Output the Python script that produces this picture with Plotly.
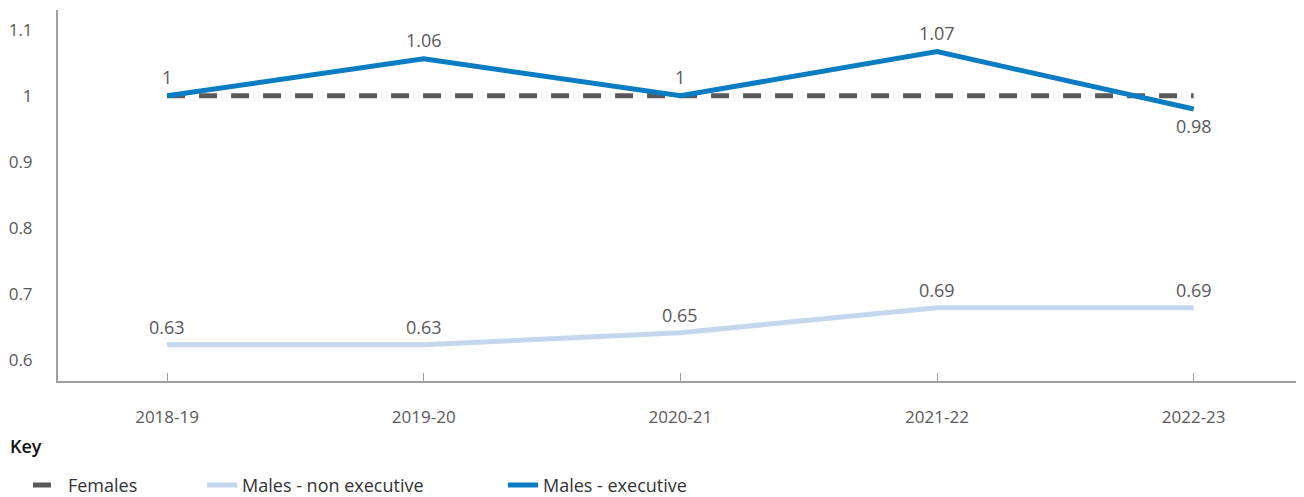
import plotly.graph_objects as go

years = ["2018-19", "2019-20", "2020-21", "2021-22", "2022-23"]
females = [1, 1, 1, 1, 1]
males_non_exec = [0.623, 0.623, 0.641, 0.679, 0.679]
males_non_exec_labels = ["0.63", "0.63", "0.65", "0.69", "0.69"]
males_exec = [1.0, 1.056, 1.0, 1.067, 0.98]
males_exec_labels = ["1", "1.06", "1", "1.07", "0.98"]
exec_label_above = [True, True, True, True, False]
y_ticks = [0.6, 0.7, 0.8, 0.9, 1.0, 1.1]

TEXT = "#595959"
FONT = "'Open Sans', sans-serif"

fig = go.Figure()

fig.add_trace(go.Scatter(
    x=years, y=females, name="Females", mode="lines",
    line=dict(color="#5a5a5a", width=5, dash="18px,14px"),
    legend="legend",
))
fig.add_trace(go.Scatter(
    x=years, y=males_non_exec, name="Males - non executive", mode="lines",
    line=dict(color="#c3d8ee", width=5),
    legend="legend2",
))
fig.add_trace(go.Scatter(
    x=years, y=males_exec, name="Males - executive", mode="lines",
    line=dict(color="#0a7cc4", width=5),
    legend="legend3",
))

# value labels sitting above (or below) each point
labels = []
for x, y, t in zip(years, males_non_exec, males_non_exec_labels):
    labels.append(dict(x=x, y=y, text=t, yshift=18))
for x, y, t, up in zip(years, males_exec, males_exec_labels, exec_label_above):
    labels.append(dict(x=x, y=y, text=t, yshift=19 if up else -17))
for a in labels:
    a.update(showarrow=False, xanchor="center", yanchor="middle",
             font=dict(size=18, color=TEXT, family=FONT))

labels.append(dict(
    text="Key", xref="paper", yref="paper", x=-0.0401, y=-0.175,
    xanchor="left", yanchor="middle", showarrow=False,
    font=dict(size=18, color="#111111", family=FONT, weight=600),
))

leg = dict(orientation="h", y=-0.281, yanchor="middle", xanchor="left",
           font=dict(size=18, color="#333333", family=FONT), bgcolor="rgba(0,0,0,0)")

fig.update_layout(
    width=1296, height=489,
    margin=dict(l=50, r=0, t=2, b=116, autoexpand=False),
    plot_bgcolor="white", paper_bgcolor="white",
    font=dict(family=FONT, color=TEXT, size=17),
    showlegend=True,
    legend=dict(leg, x=-0.0241),
    legend2=dict(leg, x=0.1156),
    legend3=dict(leg, x=0.3571),
    annotations=labels,
)

fig.update_xaxes(
    type="category", range=[-0.425, 4.43],
    showline=True, linecolor="#a0a0a0", linewidth=2,
    ticks="inside", ticklen=8, tickcolor="#a0a0a0",
    showgrid=False, zeroline=False,
    tickfont=dict(size=17, color=TEXT), ticklabelstandoff=20,
)
fig.update_yaxes(
    range=[0.568, 1.13], tickvals=y_ticks,
    showline=True, linecolor="#a0a0a0", linewidth=2,
    showgrid=False, zeroline=False, ticks="",
    tickfont=dict(size=17, color=TEXT), ticklabelstandoff=20,
)

fig.write_html("out.html")
